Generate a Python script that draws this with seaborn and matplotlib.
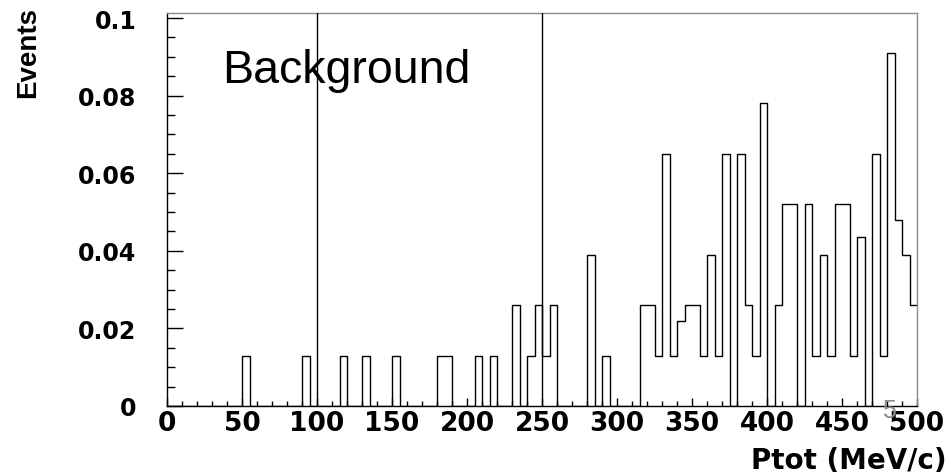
import numpy as np
import pandas as pd
import matplotlib
matplotlib.use("Agg")
import matplotlib.pyplot as plt
from matplotlib import font_manager
from matplotlib.ticker import MultipleLocator, FixedLocator
import seaborn as sns

# Total momentum histogram, 5 MeV/c bins from 0 to 500 MeV/c
ptot_min = 0
ptot_max = 500
bin_width = 5
events = [
    0, 0, 0, 0, 0, 0, 0, 0, 0, 0,                      # 0-50
    0.013, 0, 0, 0, 0, 0, 0, 0, 0.013, 0,              # 50-100
    0, 0, 0, 0.013, 0, 0, 0.013, 0, 0, 0,              # 100-150
    0.013, 0, 0, 0, 0, 0, 0.013, 0.013, 0, 0,          # 150-200
    0, 0.013, 0, 0.013, 0, 0, 0.026, 0, 0.013, 0.026,  # 200-250
    0.013, 0.026, 0, 0, 0, 0, 0.039, 0, 0.013, 0,      # 250-300
    0, 0, 0, 0.026, 0.026, 0.013, 0.065, 0.013, 0.022, 0.026,   # 300-350
    0.026, 0.013, 0.039, 0.013, 0.065, 0, 0.065, 0.026, 0.013, 0.078,  # 350-400
    0, 0.026, 0.052, 0.052, 0, 0.052, 0.013, 0.039, 0.013, 0.052,   # 400-450
    0.052, 0.013, 0.0436, 0, 0.065, 0.013, 0.091, 0.048, 0.039, 0.026,  # 450-500
]
cut_lines = [100, 250]
x_ticks = [0, 50, 100, 150, 200, 250, 300, 350, 400, 450, 500]
y_ticks = [0, 0.02, 0.04, 0.06, 0.08, 0.1]
y_tick_labels = ["0", "0.02", "0.04", "0.06", "0.08", "0.1"]

centers = ptot_min + bin_width * (np.arange(len(events)) + 0.5)
hist_df = pd.DataFrame({"ptot": centers, "events": events})

sns.set_style("white")
installed = {f.name for f in font_manager.fontManager.ttflist}
narrow = next((f for f in ["Liberation Sans Narrow", "DejaVu Sans Condensed",
                           "Liberation Sans"] if f in installed), "DejaVu Sans")
plt.rcParams["font.family"] = ["DejaVu Sans"]
plt.rcParams["text.color"] = "black"
plt.rcParams["xtick.labelcolor"] = "black"
plt.rcParams["ytick.labelcolor"] = "black"

W, H = 951, 477
fig = plt.figure(figsize=(W / 100, H / 100), dpi=100)
fig.patch.set_facecolor("white")
ax = fig.add_axes([167 / W, 1 - 407 / H, 750 / W, 393 / H])
ax.set_facecolor("white")

sns.histplot(data=hist_df, x="ptot", weights="events", binwidth=bin_width,
             binrange=(ptot_min, ptot_max), element="step", fill=False,
             color="black", linewidth=1.0, ax=ax)

for xc in cut_lines:
    ax.axvline(xc, color="black", linewidth=1.0, zorder=3)

ax.set_xlim(ptot_min, ptot_max)
ax.set_ylim(0, 0.10129)
ax.set_xlabel("")
ax.set_ylabel("")

ax.xaxis.set_major_locator(FixedLocator(x_ticks))
ax.xaxis.set_minor_locator(MultipleLocator(10))
ax.yaxis.set_major_locator(FixedLocator(y_ticks))
ax.yaxis.set_minor_locator(MultipleLocator(0.005))
ax.set_xticklabels([str(v) for v in x_ticks], fontsize=19, fontweight="bold",
                   family="DejaVu Sans", color="black")
ax.set_yticklabels(y_tick_labels, fontsize=17, fontweight="bold", family="DejaVu Sans",
                   color="black")

ax.tick_params(axis="x", which="major", direction="in", length=6, width=1,
               color="black", pad=3, bottom=True, top=False)
ax.tick_params(axis="x", which="minor", direction="in", length=3.5, width=1,
               color="black", bottom=True, top=False)
ax.tick_params(axis="y", which="major", direction="in", length=11.5, width=1,
               color="black", pad=22, left=True, right=False)
ax.tick_params(axis="y", which="minor", direction="in", length=5.8, width=1,
               color="black", left=True, right=False)

for side in ["left", "bottom"]:
    ax.spines[side].set_color("black")
    ax.spines[side].set_linewidth(1.0)
for side in ["top", "right"]:
    ax.spines[side].set_color("#8c8c8c")
    ax.spines[side].set_linewidth(1.0)
    ax.spines[side].set_visible(True)

fig.text(222 / W, 1 - 83 / H, "Background", fontsize=33.5, family="Liberation Sans",
         ha="left", va="baseline", color="black")
fig.text(28 / W, 1 - 52 / H, "Events", rotation=90, fontsize=20, fontweight="heavy",
         family=narrow, ha="center", va="center", color="black")
fig.text(947 / W, 1 - 461 / H, "Ptot (MeV/c)", fontsize=20, fontweight="bold",
         family="DejaVu Sans", ha="right", va="center", color="black")
fig.text(889 / W, 1 - 411 / H, "5", fontsize=18, color="#8a8a8a",
         family="Liberation Sans", ha="center", va="center")

fig.savefig("out.png", dpi=100, facecolor="white")
